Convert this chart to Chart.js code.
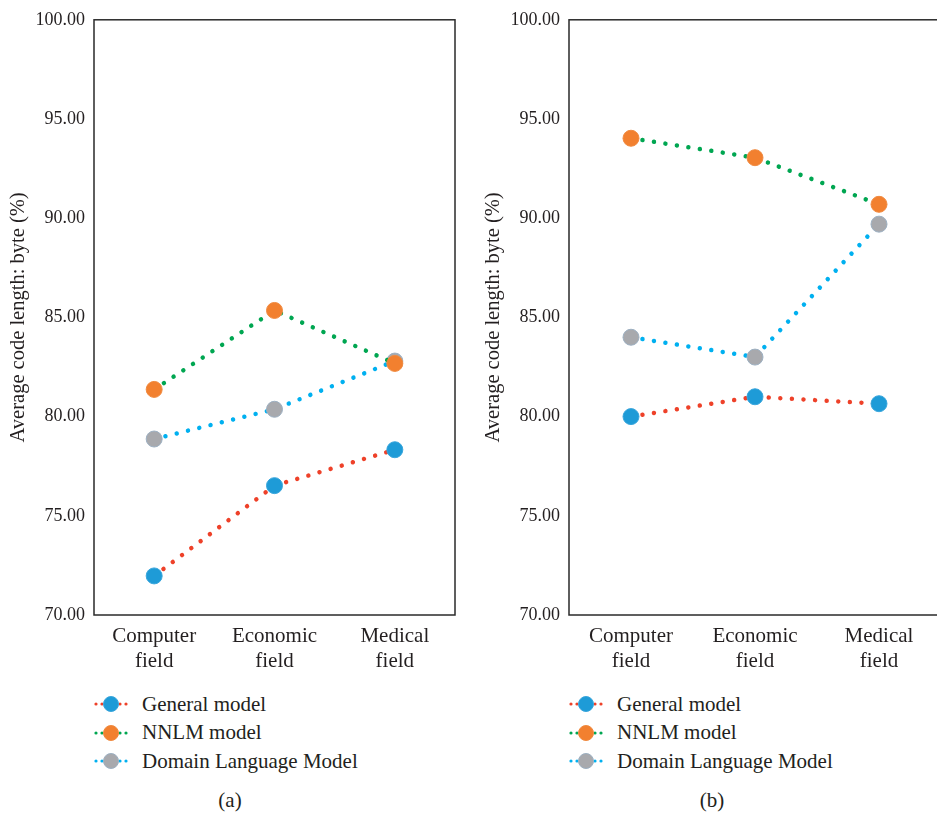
<!DOCTYPE html>
<html><head><meta charset="utf-8">
<script src="https://cdn.jsdelivr.net/npm/chart.js@4"></script>
<style>
html,body{margin:0;padding:0;background:#fff;overflow:hidden;width:937px;height:816px;position:relative;}
.cv{position:absolute;top:0;}
.legend{position:absolute;font-family:"Liberation Serif",serif;font-size:21px;color:#231F20;}
.legend .row{position:absolute;left:0;height:28px;white-space:nowrap;display:flex;align-items:center;}
.legend svg{margin-right:13px;}
.cap{position:absolute;top:788px;width:60px;text-align:center;font-family:"Liberation Serif",serif;font-size:21px;color:#231F20;}
</style></head>
<body>
<canvas id="ca" class="cv" style="left:0px;width:470px;height:690px;" width="470" height="690"></canvas>
<canvas id="cb" class="cv" style="left:475px;width:480px;height:690px;" width="480" height="690"></canvas>
<div id="la" class="legend" style="left:94px;top:690px;"></div>
<div id="lb" class="legend" style="left:569px;top:690px;"></div>
<div class="cap" style="left:200px;">(a)</div>
<div class="cap" style="left:682px;">(b)</div>
<script>
// ---- data ----
const categories = [["Computer","field"],["Economic","field"],["Medical","field"]];
const seriesNames = ["General model","NNLM model","Domain Language Model"];
const yTicks = [70, 75, 80, 85, 90, 95, 100];
const generalA = [71.97, 76.52, 78.33];
const nnlmA    = [81.37, 85.35, 82.68];
const domainA  = [78.87, 80.37, 82.80];
const generalB = [80.00, 81.00, 80.65];
const nnlmB    = [94.03, 93.05, 90.70];
const domainB  = [84.00, 83.00, 89.70];
const yTitle = "Average code length: byte (%)";

// ---- styles ----
const lineColors = ["#EE4129", "#00A651", "#00B0F0"];
const markerColors = ["#1E9BD7", "#F2802F", "#A8A9AD"];
const markerBorders = ["#3AA6DC", "#F08A40", "#9DB0C2"];
const FONT = '"Liberation Serif", serif';
const TXT = '#231F20';

const framePlugin = {
  id: 'frame',
  beforeDatasetsDraw(chart) {
    const {ctx, chartArea: a} = chart;
    ctx.save();
    ctx.strokeStyle = '#2a2a2a';
    ctx.lineWidth = 1.5;
    ctx.strokeRect(a.left, a.top, a.right - a.left, a.bottom - a.top);
    ctx.restore();
  }
};

function makeChart(id, series, rightPad) {
  const datasets = series.map((vals, i) => ({
    label: seriesNames[i],
    data: vals,
    borderColor: lineColors[i],
    borderWidth: 4.5,
    borderDash: [0.01, 11.6],
    borderCapStyle: 'round',
    tension: 0,
    fill: false,
    pointRadius: 8,
    pointHoverRadius: 8,
    pointBackgroundColor: markerColors[i],
    pointBorderColor: markerBorders[i],
    pointBorderWidth: 1
  }));
  return new Chart(document.getElementById(id), {
    type: 'line',
    data: { labels: categories, datasets },
    plugins: [framePlugin],
    options: {
      responsive: false,
      animation: false,
      events: [],
      layout: { padding: { top: 16, right: rightPad, bottom: 0, left: 0 } },
      plugins: { legend: { display: false }, tooltip: { enabled: false } },
      scales: {
        x: {
          offset: true,
          grid: { display: false, drawTicks: false },
          border: { display: false },
          ticks: { color: TXT, font: { family: FONT, size: 21 }, padding: 9, maxRotation: 0, autoSkip: false },
          afterFit(s) { s.height = 75; }
        },
        y: {
          min: yTicks[0], max: yTicks[yTicks.length - 1],
          afterBuildTicks(s) { s.ticks = yTicks.map(v => ({ value: v })); },
          grid: { display: false, drawTicks: false },
          border: { display: false },
          ticks: { color: TXT, font: { family: FONT, size: 18 }, padding: 9, callback: v => Number(v).toFixed(2) },
          title: { display: true, text: yTitle, color: TXT, font: { family: FONT, size: 20.5 }, padding: { top: 6, bottom: 0 } },
          afterFit(s) { s.width = 94; }
        }
      }
    }
  });
}

makeChart('ca', [generalA, nnlmA, domainA], 15);
makeChart('cb', [generalB, nnlmB, domainB], 14);

function buildLegend(id) {
  const el = document.getElementById(id);
  seriesNames.forEach((name, i) => {
    const row = document.createElement('div');
    row.className = 'row';
    row.style.top = (i * 28.5) + 'px';
    let dots = '';
    [2, 8, 26, 32].forEach(x => { dots += `<circle cx="${x}" cy="10" r="1.6" fill="${lineColors[i]}"/>`; });
    row.innerHTML = `<svg width="35" height="20" viewBox="0 0 35 20">${dots}<circle cx="17" cy="10" r="7.5" fill="${markerColors[i]}" stroke="${markerBorders[i]}" stroke-width="1"/></svg><span>${name}</span>`;
    el.appendChild(row);
  });
}
buildLegend('la');
buildLegend('lb');
</script>
</body></html>
